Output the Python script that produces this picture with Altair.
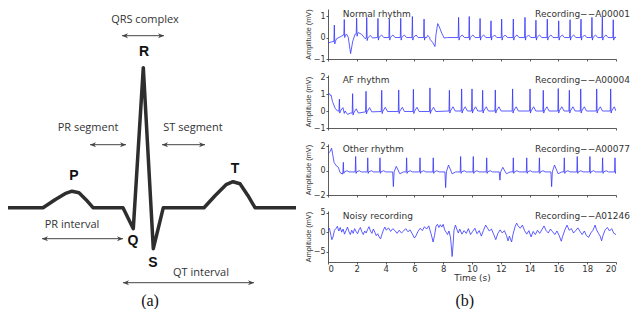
import altair as alt
import pandas as pd

# ---------------- (a) schematic ECG beat ----------------
schem_t = [0, 43, 55, 65, 72, 79, 86, 93, 123, 133.3, 143.3, 153.3, 163.3,
           204, 215, 226, 233, 240, 248, 255, 296]
schem_mv = [0, 0, 0.08, 0.14, 0.165, 0.15, 0.08, 0, 0, -0.21, 1.40, -0.41, 0,
            0, 0.12, 0.23, 0.26, 0.24, 0.12, 0, 0]

sch_label_text = ["QRS complex", "PR segment", "ST segment", "PR interval", "QT interval"]
sch_label_t = [145, 88, 193, 72, 201]
sch_label_mv = [1.88, 0.80, 0.80, -0.17, -0.65]

wave_letters = ["R", "P", "T", "Q", "S"]
wave_letter_t = [144, 74, 235, 133, 153]
wave_letter_mv = [1.56, 0.32, 0.39, -0.33, -0.55]

arrow_t1 = [122, 90, 162, 42, 123]
arrow_t2 = [164, 126, 205, 123, 254]
arrow_mv = [1.72, 0.63, 0.63, -0.31, -0.75]

# ---------------- (b) recordings ----------------
# beat tables: time (s), R peak (mV), local baseline (mV), T-wave height (mV)
p1_beat_t = [0.44, 1.13, 1.99, 2.69, 3.47, 4.26, 5.05, 5.86, 6.67, 9.07, 9.81, 10.56,
             11.32, 12.06, 12.87, 13.68, 14.44, 15.23, 16.02, 16.81, 17.57, 18.33, 19.05, 19.81]
p1_beat_peak = [0.58, 0.84, 0.90, 0.94, 0.89, 0.86, 0.90, 0.98, 0.86, 0.94, 0.98, 0.89,
                0.78, 0.86, 0.86, 0.94, 0.81, 0.86, 0.78, 0.83, 0.86, 0.94, 0.98, 0.83]
p1_beat_base = [-0.18, 0.12, 0.18, -0.02, 0.0, 0.0, 0.0, 0.0, 0.0, 0.0, 0.0, 0.0,
                0.0, 0.0, 0.0, 0.0, 0.0, 0.0, 0.0, 0.0, 0.0, 0.0, 0.0, 0.0]
p1_beat_twave = [0.0, 0.0, 0.0, 0.12, 0.12, 0.12, 0.12, 0.12, 0.1, 0.12, 0.12, 0.12,
                 0.12, 0.12, 0.12, 0.12, 0.12, 0.12, 0.12, 0.12, 0.12, 0.12, 0.12, 0.12]
p1_extra_t = [0.0, 0.25, 0.6, 0.9, 1.06, 1.3, 1.41, 1.57, 1.71, 1.875, 2.1, 2.34, 2.57,
              6.85, 7.08, 7.27, 7.43, 7.5, 7.62, 7.73, 7.9, 8.06, 8.3, 20.0]
p1_extra_v = [-0.25, -0.2, -0.05, 0.05, 0.12, 0.15, 0.0, -0.75, -0.2, 0.15, 0.23, 0.15, -0.05,
              0.0, -0.08, -0.23, -0.42, 0.15, 0.65, 0.5, 0.2, -0.02, 0.0, 0.0]

p2_beat_t = [0.79, 1.71, 2.64, 3.73, 4.91, 5.93, 7.08, 8.43, 9.28, 10.0, 10.74, 11.62,
             12.82, 14.03, 14.95, 15.99, 16.76, 17.55, 18.66, 19.63]
p2_beat_peak = [0.70, 1.02, 1.16, 1.22, 1.24, 1.28, 1.36, 1.22, 1.30, 1.30, 1.22, 1.24,
                1.30, 1.30, 1.22, 1.32, 1.22, 1.30, 1.30, 1.30]
p2_beat_base = [0.0, -0.12, -0.05, -0.03, -0.03, -0.03, -0.03, 0.0, 0.0, 0.0, 0.0, 0.0,
                0.0, 0.0, 0.0, 0.0, 0.0, 0.0, 0.0, 0.0]
p2_beat_twave = [0.2, 0.25, 0.25, 0.25, 0.25, 0.25, 0.25, 0.25, 0.25, 0.25, 0.25, 0.25,
                 0.25, 0.25, 0.25, 0.25, 0.25, 0.25, 0.25, 0.25]
p2_extra_t = [0.0, 0.1, 0.16, 0.21, 0.31, 0.5, 0.66, 1.13, 1.36, 1.55, 20.0]
p2_extra_v = [0.95, 1.02, 0.92, 0.95, 0.56, 0.16, 0.0, -0.14, -0.2, -0.12, 0.0]

p3_beat_t = [1.065, 1.92, 2.76, 3.61, 5.46, 6.39, 7.31, 9.21, 10.09, 11.02, 12.87, 13.8,
             14.68, 16.41, 17.31, 18.19, 19.07, 19.93]
p3_beat_peak = [0.69, 1.17, 1.06, 1.06, 1.06, 1.06, 1.06, 1.17, 1.17, 1.06, 1.06, 1.06,
                1.06, 1.06, 1.17, 1.17, 1.06, 1.06]
p3_beat_base = [-0.1] * 18
p3_beat_twave = [0.1] * 18
p3_ectopic_t = [4.54, 8.17, 11.94, 15.53]
p3_ectopic_depth = [-1.31, -1.39, -0.78, -1.31]
p3_ectopic_bump = [0.36, 0.47, 0.28, 0.47]
p3_extra_t = [0.0, 0.14, 0.25, 0.32, 0.42, 0.56, 0.72, 0.83, 1.0, 20.0]
p3_extra_v = [1.39, 1.58, 1.86, 1.39, 0.69, 0.42, 0.28, -0.14, -0.28, -0.05]

p4_t = [0.0, 0.1, 0.2, 0.27, 0.35, 0.45, 0.55, 0.65, 0.75, 0.85, 0.95, 1.05, 1.15, 1.25, 1.35,
        1.45, 1.55, 1.65, 1.75, 1.85, 1.95, 2.05, 2.15, 2.25, 2.35, 2.45, 2.55, 2.65, 2.75, 2.85,
        2.95, 3.05, 3.15, 3.25, 3.35, 3.45, 3.55, 3.65, 3.75, 3.85, 3.95, 4.05, 4.2, 4.35, 4.5,
        4.65, 4.8, 4.95, 5.1, 5.25, 5.4, 5.55, 5.7, 5.85, 6.0, 6.1, 6.25, 6.4, 6.55, 6.7,
        6.85, 7.0, 7.1, 7.2, 7.3, 7.4, 7.5, 7.6, 7.7, 7.8, 7.9, 8.0, 8.1, 8.2, 8.3,
        8.4, 8.5, 8.55, 8.62, 8.68, 8.75, 8.85, 8.95, 9.05, 9.15, 9.3, 9.45, 9.6, 9.75, 9.9,
        10.05, 10.2, 10.35, 10.5, 10.65, 10.8, 10.95, 11.05, 11.2, 11.35, 11.5, 11.65, 11.8, 11.95, 12.1,
        12.25, 12.4, 12.5, 12.6, 12.75, 12.85, 13.0, 13.1, 13.2, 13.35, 13.5, 13.65, 13.8, 13.95, 14.1,
        14.25, 14.4, 14.55, 14.7, 14.85, 15.0, 15.15, 15.3, 15.45, 15.6, 15.75, 15.9, 16.05, 16.2, 16.3,
        16.45, 16.6, 16.75, 16.9, 17.05, 17.2, 17.35, 17.5, 17.65, 17.8, 17.95, 18.1, 18.25, 18.4, 18.55,
        18.65, 18.8, 18.9, 19.0, 19.1, 19.25, 19.4, 19.55, 19.7, 19.85, 20.0]
p4_v = [0.6, 1.0, -0.8, -1.9, -1.2, 0.5, 0.9, 1.5, 0.3, 1.2, 0.0, 0.8, -0.5, 0.4, 1.3,
        0.2, -0.6, 0.5, -0.3, 0.9, 0.2, -0.4, 0.6, 1.2, 0.1, -0.6, 0.3, -0.2, 0.7, 1.4,
        0.3, -0.3, 0.8, 0.0, -0.9, -0.4, -1.2, -1.7, -0.5, 0.6, 1.3, 0.5, 1.1, 0.2, 0.9,
        0.4, -0.3, 0.5, -0.2, 0.3, 0.9, 0.1, 0.6, -0.4, -1.5, -1.0, 0.2, 1.0, 0.4, 1.4,
        0.8, 1.6, 0.3, -1.0, -2.5, -0.8, 1.5, 2.0, 1.2, 1.9, 1.3, 2.0, 0.6, 0.0, -0.6,
        0.3, -1.2, -3.0, -6.2, -3.5, 0.5, 1.8, 0.7, -0.2, 0.8, -0.5, 0.4, -0.3, 0.9, -0.6,
        0.2, 1.0, -0.4, 0.4, -1.0, 0.5, 1.8, 1.2, 0.3, 0.8, -0.5, -1.9, -0.3, 0.6, -0.2,
        0.4, -0.9, -2.2, -1.0, -2.5, -0.5, 1.5, 2.3, 1.6, 1.0, 1.8, 0.4, -0.5, 0.4, -1.2,
        0.2, -0.6, 0.5, -0.3, 0.6, 1.6, 0.4, -0.2, 0.8, 0.1, -0.6, 0.3, -0.8, -2.3, -1.0,
        0.6, 1.8, 0.5, 0.9, -0.2, 0.4, 1.1, 0.2, -0.6, 0.3, -0.9, -1.3, -0.2, 0.5, 1.8,
        0.6, -0.4, -1.0, -2.2, -0.8, 0.6, 1.2, 0.3, 0.9, -0.3, -0.6]

panel_names = ["Normal rhythm", "AF rhythm", "Other rhythm", "Noisy recording"]
panel_records = ["Recording\u2212\u2212A00001", "Recording\u2212\u2212A00004",
                 "Recording\u2212\u2212A00077", "Recording\u2212\u2212A01246"]
panel_domains = [[-1, 1.33], [-1, 2.12], [-2, 2.2], [-7.6, 5.4]]
panel_ticks = [[-1, 0, 1], [-1, 0, 1, 2], [-2, 0, 2], [-5, 0, 5]]
time_ticks = [0, 2, 4, 6, 8, 10, 12, 14, 16, 18, 20]

# ---------------- helpers ----------------
def beats_frame(bt, bp, bb, tw, extra_t, extra_v, ect_t=(), ect_d=(), ect_b=(), base_e=-0.1):
    pts = list(zip(extra_t, extra_v))
    for t, p, b, w in zip(bt, bp, bb, tw):
        pts += [(t - 0.03, b), (t, p), (t + 0.03, b - 0.12), (t + 0.07, b)]
        if w:
            pts += [(t + 0.25, b + w), (t + 0.4, b)]
    for t, d, u in zip(ect_t, ect_d, ect_b):
        pts += [(t - 0.05, base_e), (t, d), (t + 0.05, base_e), (t + 0.2, u),
                (t + 0.45, -0.25), (t + 0.7, base_e)]
    pts.sort()
    return pd.DataFrame(pts, columns=["t", "v"])


frames = [
    beats_frame(p1_beat_t, p1_beat_peak, p1_beat_base, p1_beat_twave, p1_extra_t, p1_extra_v),
    beats_frame(p2_beat_t, p2_beat_peak, p2_beat_base, p2_beat_twave, p2_extra_t, p2_extra_v),
    beats_frame(p3_beat_t, p3_beat_peak, p3_beat_base, p3_beat_twave, p3_extra_t, p3_extra_v,
                p3_ectopic_t, p3_ectopic_depth, p3_ectopic_bump),
    pd.DataFrame({"t": p4_t, "v": p4_v}),
]

TXT = "#333333"

# ---------------- left chart ----------------
LX = alt.X("t:Q", scale=alt.Scale(domain=[8, 300], nice=False, zero=False), axis=None)
LY = alt.Y("mv:Q", scale=alt.Scale(domain=[-1.013, 1.987], nice=False, zero=False), axis=None)

wave = alt.Chart(pd.DataFrame({"t": schem_t, "mv": schem_mv})).mark_line(
    color="#2e2e2e", strokeWidth=3.5, strokeJoin="round", clip=True
).encode(x=LX, y=LY)

arrows_df = pd.DataFrame({"t": arrow_t1, "t2": arrow_t2, "mv": arrow_mv})
shafts = alt.Chart(arrows_df).mark_rule(color="#444444", strokeWidth=1).encode(
    x=LX, x2="t2:Q", y=LY)
head_r = alt.Chart(arrows_df).mark_point(
    shape="M0,0L-1,-0.42L-0.7,0L-1,0.42Z", filled=True, size=144, color="#444444", opacity=1
).encode(x=alt.X("t2:Q", scale=alt.Scale(domain=[8, 300], nice=False, zero=False), axis=None), y=LY)
head_l = alt.Chart(arrows_df).mark_point(
    shape="M0,0L1,-0.42L0.7,0L1,0.42Z", filled=True, size=144, color="#444444", opacity=1
).encode(x=LX, y=LY)

labels_a = alt.Chart(pd.DataFrame({"t": sch_label_t, "mv": sch_label_mv, "txt": sch_label_text})).mark_text(
    font="Open Sans", fontSize=11, color=TXT, baseline="middle", align="center"
).encode(x=LX, y=LY, text="txt:N")
letters_a = alt.Chart(pd.DataFrame({"t": wave_letter_t, "mv": wave_letter_mv, "txt": wave_letters})).mark_text(
    font="Liberation Sans", fontSize=14, fontWeight="bold", color="#111111", baseline="middle", align="center"
).encode(x=LX, y=LY, text="txt:N")
cap_a = alt.Chart(pd.DataFrame({"t": [150], "mv": [-0.93], "txt": ["(a)"]})).mark_text(
    font="Liberation Serif", fontSize=16, color="#111111", baseline="middle", align="center"
).encode(x=LX, y=LY, text="txt:N")

left = alt.layer(wave, shafts, head_l, head_r, labels_a, letters_a, cap_a).properties(width=292, height=300)

# ---------------- right panels ----------------
heights = [50, 53, 51, 51]
panels = []
for i in range(4):
    last = i == 3
    X = alt.X("t:Q", scale=alt.Scale(domain=[0, 20], nice=False, zero=False),
              axis=alt.Axis(values=time_ticks, labels=last, title="Time (s)" if last else None,
                            labelFontSize=8.5, titleFontSize=9, titlePadding=1, labelPadding=0,
                            tickSize=2, labelOverlap=False))
    Y = alt.Y("v:Q", scale=alt.Scale(domain=panel_domains[i], nice=False, zero=False),
              axis=alt.Axis(values=panel_ticks[i], title="Amplitude (mV)", titleFontSize=7.3,
                            titleFont="Liberation Sans",
                            labelFontSize=8, labelPadding=1, tickSize=2, titlePadding=1,
                            labelOverlap=False))
    line = alt.Chart(frames[i]).mark_line(color="#3434ff", strokeWidth=0.8, clip=True).encode(x=X, y=Y)
    name = alt.Chart(pd.DataFrame({"t": [1.02], "txt": [panel_names[i]]})).mark_text(
        font="DejaVu Sans", fontSize=9, color=TXT, align="left", baseline="middle"
    ).encode(x=X, y=alt.value(5), text="txt:N")
    rec = alt.Chart(pd.DataFrame({"t": [20.97], "txt": [panel_records[i]]})).mark_text(
        font="DejaVu Sans", fontSize=9, color=TXT, align="right", baseline="middle"
    ).encode(x=X, y=alt.value(5), text="txt:N")
    layers = [line, name, rec]
    if last:
        cap_b = alt.Chart(pd.DataFrame({"t": [9.5], "txt": ["(b)"]})).mark_text(
            font="Liberation Serif", fontSize=16, color="#111111", align="center", baseline="middle"
        ).encode(x=X, y=alt.value(heights[i] + 39), text="txt:N")
        layers.append(cap_b)
    panels.append(alt.layer(*layers).properties(width=288, height=heights[i]))

right = alt.vconcat(*panels, spacing=16, bounds="flush")

chart = alt.hconcat(left, right, spacing=28, bounds="flush", padding=0).configure_view(
    stroke=None
).configure_axis(
    grid=False, domainColor="#333333", tickColor="#333333", domainWidth=0.8, tickWidth=0.8,
    labelColor=TXT, titleColor=TXT, labelFont="DejaVu Sans", titleFont="DejaVu Sans",
    titleFontWeight="normal"
)

chart.save("out.html", embed_options={"renderer": "svg", "actions": False})
